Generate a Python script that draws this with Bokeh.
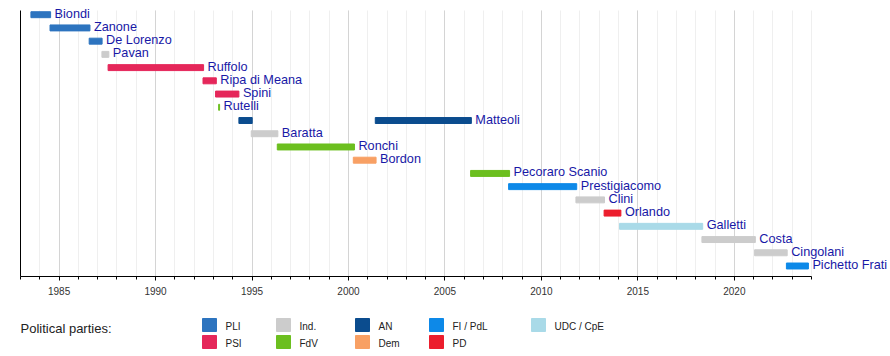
from bokeh.plotting import figure
from bokeh.models import (ColumnDataSource, Range1d, SingleIntervalTicker, LabelSet, FixedTicker)
from bokeh.layouts import column
from bokeh.core.properties import value
from bokeh.embed import file_html
from bokeh.resources import INLINE

# ---- data ----
term_names = ["Biondi", "Zanone", "De Lorenzo", "Pavan", "Ruffolo", "Ripa di Meana", "Spini",
              "Rutelli", "Matteoli", "Baratta", "Ronchi", "Bordon", "Matteoli",
              "Pecoraro Scanio", "Prestigiacomo", "Clini", "Orlando", "Galletti", "Costa",
              "Cingolani", "Pichetto Frati"]
term_rows = [1, 2, 3, 4, 5, 6, 7, 8, 9, 10, 11, 12, 9, 13, 14, 15, 16, 17, 18, 19, 20]
term_start = [1983.54, 1984.53, 1986.56, 1987.22, 1987.54, 1992.46, 1993.11, 1993.27, 1994.32,
              1994.96, 1996.31, 2000.25, 2001.39, 2006.33, 2008.30, 2011.79, 2013.25, 2014.05,
              2018.32, 2021.05, 2022.70]
term_end = [1984.56, 1986.60, 1987.23, 1987.58, 1992.49, 1993.15, 1994.32, 1993.32, 1995.01,
            1996.34, 2000.31, 2001.43, 2006.37, 2008.35, 2011.83, 2013.27, 2014.12, 2018.36,
            2021.09, 2022.74, 2023.84]
term_party = ["PLI", "PLI", "PLI", "Ind.", "PSI", "PSI", "PSI", "FdV", "AN", "Ind.", "FdV",
              "Dem", "AN", "FdV", "FI / PdL", "Ind.", "PD", "UDC / CpE", "Ind.", "Ind.",
              "FI / PdL"]

party_names = ["PLI", "PSI", "Ind.", "FdV", "AN", "Dem", "FI / PdL", "PD", "UDC / CpE"]
party_colors = ["#2d74bf", "#e5275a", "#cccccc", "#6cbf1f", "#0b4c8e", "#f8a064",
                "#0d89e8", "#ec1e2d", "#a9dae8"]

year_start, year_end = 1983, 2024
legend_title = ["Political parties:"]

# ---- derived sources ----
color_of = dict(zip(party_names, party_colors))
bars = ColumnDataSource(dict(row=term_rows, start=term_start, end=term_end,
                             color=[color_of[pp] for pp in term_party]))

last_end = {}
for n, r, e in zip(term_names, term_rows, term_end):
    if r not in last_end or e > last_end[r][1]:
        last_end[r] = (n, e)
lab_rows = sorted(last_end)
labels = ColumnDataSource(dict(row=lab_rows,
                               x=[last_end[r][1] for r in lab_rows],
                               name=[last_end[r][0] for r in lab_rows]))

FONT = "Liberation Sans"
PX_PER_YEAR = (811 - 20) / (year_end - year_start)
x_max = year_end + (890 - 811) / PX_PER_YEAR
ROW_PX = 13.23
row_top = 1 - 14.2 / ROW_PX
row_bottom = 20 + 10.5 / ROW_PX
axis_top = 1 - 4.2 / ROW_PX

p = figure(width=890, height=306, output_backend="svg", toolbar_location=None,
           x_range=Range1d(year_start, x_max), y_range=Range1d(row_bottom, row_top),
           min_border_left=20, min_border_right=0, min_border_top=0, min_border_bottom=30)
p.outline_line_color = None
p.ygrid.visible = False

# left axis: plain vertical line only
p.yaxis.bounds = (axis_top, row_bottom)
p.yaxis.ticker = FixedTicker(ticks=[])
p.yaxis.major_tick_out = 0
p.yaxis.major_tick_in = 0
p.yaxis.minor_tick_out = 0
p.yaxis.minor_tick_in = 0
p.yaxis.major_label_standoff = 0
p.yaxis.major_label_text_font_size = "0px"
p.yaxis.axis_line_color = "black"

p.xaxis.bounds = (year_start, year_end)
p.xaxis.ticker = SingleIntervalTicker(interval=5, num_minor_ticks=5)
p.xaxis.axis_line_color = "black"
p.xaxis.major_tick_line_color = "black"
p.xaxis.minor_tick_line_color = "black"
p.xaxis.major_tick_in = 0
p.xaxis.major_tick_out = 4
p.xaxis.minor_tick_in = 0
p.xaxis.minor_tick_out = 3
p.xaxis.major_label_standoff = 6
p.xaxis.major_label_text_font = FONT
p.xaxis.major_label_text_font_size = "10px"
p.xaxis.major_label_text_color = "#333333"
p.xgrid.grid_line_color = "#d4d4d4"
p.xgrid.minor_grid_line_color = "#efefef"
for g in p.xgrid:
    if "cross_bounds" in g.properties():
        g.cross_bounds = (axis_top, row_bottom)

p.hbar(y="row", left="start", right="end", height=0.45, color="color", source=bars)

p.add_layout(LabelSet(x="x", y="row", text="name", source=labels, x_offset=4, y_offset=1,
                      text_baseline="middle", text_font=value(FONT),
                      text_font_size=value("12.7px"), text_color="#1818a6"))

# ---- legend (data units = page pixels) ----
lg = figure(width=890, height=50, output_backend="svg", toolbar_location=None,
            x_range=Range1d(20, 890), y_range=Range1d(50, 0),
            min_border=0, min_border_left=20, min_border_right=0,
            min_border_top=0, min_border_bottom=0)
lg.outline_line_color = None
lg.axis.visible = False
lg.grid.visible = False

col_x = [202, 276, 355, 429, 531]
sw_x, sw_y, tx_x, tx_y = [], [], [], []
for i, name in enumerate(party_names):
    c, r = divmod(i, 2)
    sw_x.append(col_x[c] + 7)
    sw_y.append(18.5 + 17 * r)
    tx_x.append(col_x[c] + 23)
    tx_y.append(20 + 17 * r)
lsrc = ColumnDataSource(dict(sx=sw_x, sy=sw_y, tx=tx_x, ty=tx_y, name=party_names,
                             color=party_colors))
lg.rect(x="sx", y="sy", width=14, height=13, color="color", source=lsrc)
lg.text(x="tx", y="ty", text="name", source=lsrc, text_baseline="middle",
        text_font=value(FONT), text_font_size="10px", text_color="#222222")
tsrc = ColumnDataSource(dict(x=[20], y=[22], t=legend_title))
lg.text(x="x", y="y", text="t", source=tsrc, text_baseline="middle", text_align="left",
        text_font=value(FONT), text_font_size="13px", text_color="#222222")

layout = column(p, lg, spacing=0)
open("out.html", "w").write(file_html(layout, INLINE))
